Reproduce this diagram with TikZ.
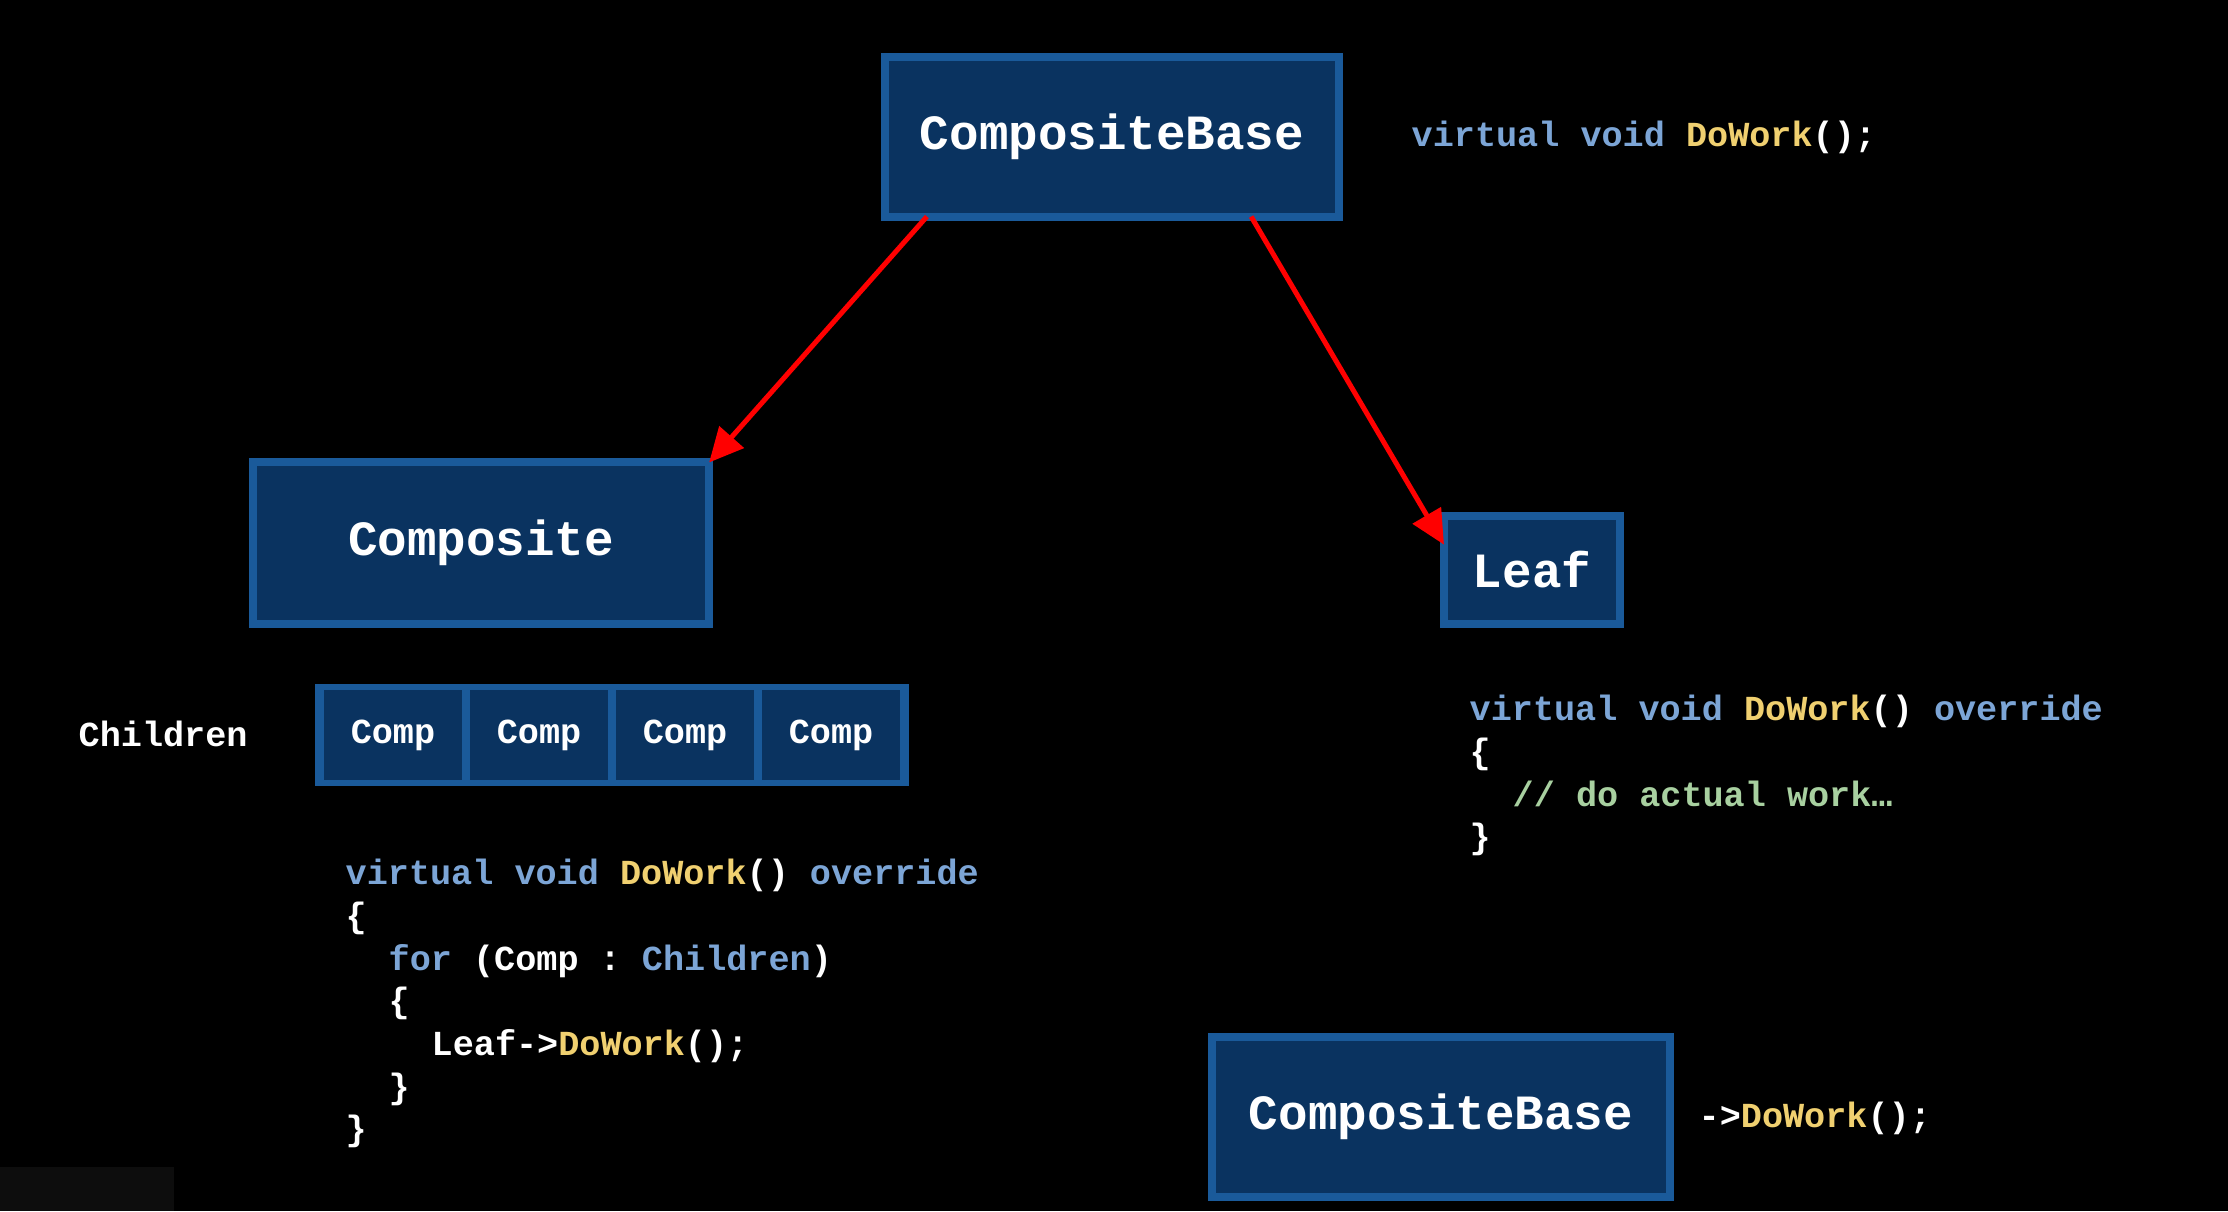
\documentclass[tikz,border=0pt]{standalone}
\usepackage{fontspec}
\setmonofont{Liberation Mono}
\usetikzlibrary{arrows.meta}
\definecolor{boxfill}{HTML}{0A3360}
\definecolor{boxline}{HTML}{1A5A9A}
\definecolor{kw}{HTML}{7CA5D6}
\definecolor{fn}{HTML}{F0D070}
\definecolor{cm}{HTML}{A8D0A0}
\newcommand{\K}[1]{\textcolor{kw}{#1}}
\newcommand{\F}[1]{\textcolor{fn}{#1}}
\begin{document}
\begin{tikzpicture}[x=0.01cm,y=-0.01cm,
  box/.style={draw=boxline,fill=boxfill,line width=0.08cm,inner sep=0,outer sep=0,text=white,font=\ttfamily\bfseries\fontsize{14}{16}\selectfont},
  cell/.style={draw=boxline,fill=boxfill,line width=0.06cm,inner sep=0,text=white,font=\ttfamily\bfseries\fontsize{10}{12}\selectfont,minimum width=1.43cm,minimum height=0.95cm},
  code/.style={anchor=base west,inner sep=0,text=white,font=\ttfamily\bfseries\fontsize{10}{12}\selectfont},
  arr/.style={red,line width=0.05cm,-{Triangle[length=0.34cm,width=0.32cm]}}]
\fill[black] (0,0) rectangle (2228,1211);
\useasboundingbox (0,0) rectangle (2228,1211);
\fill[black!95!white] (0,1167) rectangle (174,1211);
\node[box,minimum width=4.54cm,minimum height=1.59cm] (cb) at (1112,137) {CompositeBase};
\node[box,minimum width=4.56cm,minimum height=1.61cm] (comp) at (481,543) {Composite};
\node[box,minimum width=1.76cm,minimum height=1.07cm] (leaf) at (1532,570) {Leaf};
\node[box,minimum width=4.57cm,minimum height=1.60cm] (cb2) at (1441,1117) {CompositeBase};
\draw[arr] (cb.south west)++(42,0) coordinate (a1) (a1) -- (comp.north east);
\draw[arr] (cb.south east)++(-88,0) coordinate (a2) (a2) -- ([yshift=-8]leaf.north west);
\node[code,anchor=base west] (ch) at (78,746) {Children};
\node[draw=boxline,fill=boxfill,line width=0.08cm,minimum width=5.86cm,minimum height=0.93cm,inner sep=0] (row) at (612,735) {};
\foreach \i/\x in {1/393,2/539,3/685,4/831}{
  \node[cell] (c\i) at (\x,735) {Comp};
}
\node[code] (l1) at (345,884) {\K{virtual void} \F{DoWork}() \K{override}};
\node[code] (l2) at (345,927) {\{};
\node[code] (l3) at (388,970) {\K{for} (Comp : \K{Children})};
\node[code] (l4) at (388,1012) {\{};
\node[code] (l5) at (431,1055) {Leaf->\F{DoWork}();};
\node[code] (l6) at (388,1098) {\}};
\node[code] (l7) at (345,1140) {\}};
\node[code] (t1) at (1411,146) {\K{virtual void} \F{DoWork}();};
\node[code] (r1) at (1469,720) {\K{virtual void} \F{DoWork}() \K{override}};
\node[code] (r2) at (1469,763) {\{};
\node[code] (r3) at (1512,806) {\textcolor{cm}{// do actual work\dots}};
\node[code] (r4) at (1469,848) {\}};
\node[code] (b1) at (1698,1127) {->\F{DoWork}();};
\end{tikzpicture}
\end{document}
